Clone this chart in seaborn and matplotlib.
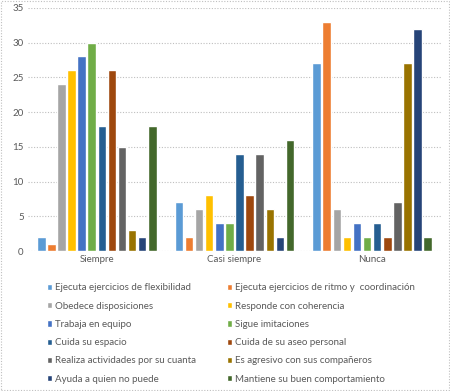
import matplotlib
matplotlib.use("Agg")
import matplotlib.pyplot as plt
import matplotlib.patches as mpatches
import pandas as pd
import seaborn as sns

groups = ["Siempre", "Casi siempre", "Nunca"]
series = [
    "Ejecuta ejercicios de flexibilidad",
    "Ejecuta ejercicios de ritmo y  coordinación",
    "Obedece disposiciones",
    "Responde con coherencia",
    "Trabaja en equipo",
    "Sigue imitaciones",
    "Cuida su espacio",
    "Cuida de su aseo personal",
    "Realiza actividades por su cuanta",
    "Es agresivo con sus compañeros",
    "Ayuda a quien no puede",
    "Mantiene su buen comportamiento",
]
siempre = [2, 1, 24, 26, 28, 30, 18, 26, 15, 3, 2, 18]
casi_siempre = [7, 2, 6, 8, 4, 4, 14, 8, 14, 6, 2, 16]
nunca = [27, 33, 6, 2, 4, 2, 4, 2, 7, 27, 32, 2]
colors = ["#5B9BD5", "#ED7D31", "#A5A5A5", "#FFC000", "#4472C4", "#70AD47",
          "#255E91", "#9E480E", "#636363", "#997300", "#264478", "#43682B"]

rows = []
for g, vals in zip(groups, [siempre, casi_siempre, nunca]):
    for s, v in zip(series, vals):
        rows.append({"grupo": g, "serie": s, "valor": v})
df = pd.DataFrame(rows)

sns.set_style("white")
plt.rcParams["font.family"] = ["Lato", "DejaVu Sans"]
text_color = "#595959"

fig = plt.figure(figsize=(4.5, 3.91), dpi=100)
ax = fig.add_axes([0.062, 0.358, 0.918, 0.622])

sns.barplot(data=df, x="grupo", y="valor", hue="serie", order=groups,
            hue_order=series, palette=colors, width=0.88, gap=0.15,
            saturation=1, ax=ax)

ax.set_ylim(0, 35)
ax.set_yticks(range(0, 36, 5))
ax.set_xlim(-0.5, 2.5)
ax.set_xlabel("")
ax.set_ylabel("")
for s in ax.spines.values():
    s.set_visible(False)
ax.yaxis.grid(True, color="#BFBFBF", linestyle=(0, (1, 1.5)), linewidth=0.8)
ax.set_axisbelow(True)
ax.tick_params(axis="both", length=0, labelsize=7, colors=text_color, pad=3)

handles, labels = ax.get_legend_handles_labels()
ax.get_legend().remove()
order = list(range(0, 12, 2)) + list(range(1, 12, 2))
fig.legend([handles[i] for i in order], [labels[i] for i in order],
           loc="upper left", bbox_to_anchor=(0.095, 0.285), ncol=2,
           frameon=False, fontsize=7, labelcolor=text_color,
           handlelength=0.6, handleheight=0.6, handletextpad=0.3,
           columnspacing=3.1, labelspacing=0.95, borderaxespad=0)

fig.patches.append(mpatches.Rectangle((0.003, 0.003), 0.994, 0.994,
                                      transform=fig.transFigure, fill=False,
                                      edgecolor="#BFBFBF", linewidth=0.8,
                                      linestyle=(0, (1, 1.5))))

fig.savefig("out.png", dpi=100)
